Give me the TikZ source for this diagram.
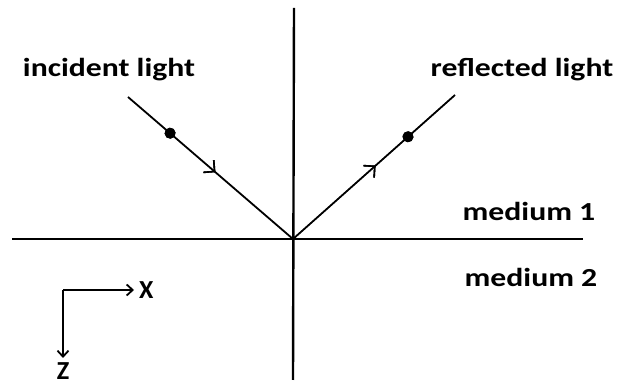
\documentclass[tikz,border=0pt]{standalone}
\usepackage{fontspec}
\setmainfont{Carlito}
\usetikzlibrary{arrows.meta,decorations.markings}
\begin{document}
\begin{tikzpicture}[x=1pt,y=-1pt,
  axisline/.style={line width=2.4pt},
  ray/.style={line width=1.8pt},
  coordarrow/.style={line width=1.8pt,-{Straight Barb[length=6pt,width=11pt,line width=1.8pt]}},
  lbl/.style={inner sep=0pt,anchor=base,font=\fontsize{26}{30}\selectfont\bfseries},
  dotmark/.style={postaction={decorate},decoration={markings,
     mark=at position #1 with {\fill circle (5.5pt);}}},
  arrmark/.style={postaction={decorate},decoration={markings,
     mark=at position #1 with {\arrow{Straight Barb[length=8pt,width=16pt,line width=1.6pt]}}}}
]
\useasboundingbox (0,0) rectangle (625,387);
% axes of interface
\coordinate (O) at (293,239);
\coordinate (vt) at (294,8);
\coordinate (vb) at (293,380);
\coordinate (hl) at (12,239);
\coordinate (hr) at (583,239);
\draw[axisline] (vt) -- (vb);
\draw[axisline] (hl) -- (hr);
% rays
\coordinate (inS) at (128,97);
\coordinate (reE) at (455,95);
\draw[ray,dotmark=0.255,arrmark=0.53] (inS) -- (O);
\draw[ray,dotmark=0.71,arrmark=0.51] (O) -- (reE);
% labels
\node[lbl] (inc) at (109,77) {\scalebox{1.22}[1]{incident light}};
\node[lbl] (ref) at (522,77) {\scalebox{1.22}[1]{reflected light}};
\node[lbl] (m1) at (529,221) {\scalebox{1.22}[1]{medium 1}};
\node[lbl] (m2) at (531,287) {\scalebox{1.22}[1]{medium 2}};
% coordinate system
\coordinate (c0) at (63,290);
\coordinate (cx) at (134,290);
\coordinate (cz) at (63,358);
\draw[coordarrow] (c0) -- (cx);
\draw[coordarrow] (c0) -- (cz);
\node[lbl,anchor=base west] (xl) at (139,299) {X};
\node[lbl] (zl) at (63,380) {Z};
\end{tikzpicture}
\end{document}
